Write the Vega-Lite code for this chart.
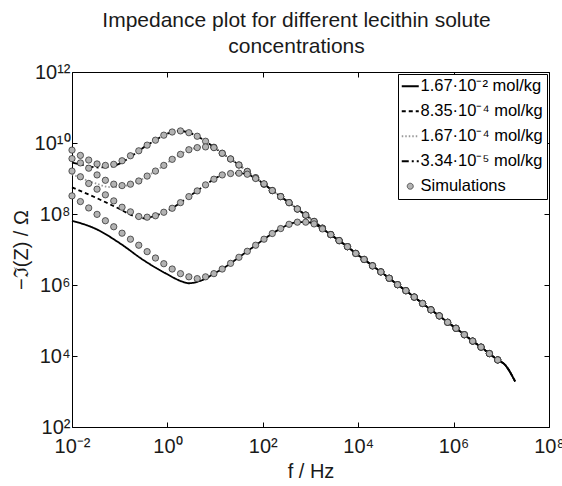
{
"$schema": "https://vega.github.io/schema/vega-lite/v6.json",
"width": 477, "height": 355,
"autosize": {"type": "none"},
"padding": {"left": 72, "top": 72, "right": 13, "bottom": 59},
"background": "white",
"title": {"text": ["Impedance plot for different lecithin solute", "concentrations"], "fontSize": 21, "font": "Liberation Sans", "fontWeight": "normal", "color": "#1a1a1a", "anchor": "middle", "dx": -14, "offset": 5, "lineHeight": 26},
"config": {
  "view": {"stroke": null},
  "axis": {"domainColor": "#000", "tickColor": "#000", "tickSize": -5, "grid": false, "labelFont": "Liberation Sans", "labelFontSize": 20, "labelColor": "#1a1a1a", "titleFont": "Liberation Sans", "titleFontSize": 20, "titleFontWeight": "normal", "titleColor": "#1a1a1a", "labelPadding": 8, "labelOverlap": false, "labelFlush": false}
},
"datasets": {
"markers": [
{"s":"D","f":0.01,"z":6.31e9},{"s":"D","f":0.015,"z":4.47e9},{"s":"D","f":0.0224,"z":3.31e9},{"s":"D","f":0.0335,"z":2.57e9},{"s":"D","f":0.0501,"z":2.34e9},{"s":"D","f":0.075,"z":2.51e9},{"s":"D","f":0.112,"z":3.16e9},{"s":"D","f":0.168,"z":4.37e9},{"s":"D","f":0.251,"z":6.03e9},{"s":"D","f":0.376,"z":8.71e9},{"s":"D","f":0.562,"z":1.20e10},{"s":"D","f":0.841,"z":1.66e10},{"s":"D","f":1.26,"z":2.04e10},{"s":"D","f":1.88,"z":2.19e10},{"s":"D","f":2.82,"z":1.95e10},{"s":"D","f":4.22,"z":1.55e10},{"s":"D","f":6.31,"z":1.12e10},{"s":"D","f":9.44,"z":7.59e9},{"s":"D","f":14.1,"z":5.13e9},{"s":"D","f":21.1,"z":3.55e9},{"s":"D","f":31.6,"z":2.40e9},{"s":"D","f":47.3,"z":1.58e9},
{"s":"D","f":70.8,"z":1.05e9},{"s":"D","f":106,"z":6.92e8},{"s":"D","f":158,"z":4.57e8},{"s":"D","f":237,"z":3.09e8},{"s":"D","f":355,"z":2.09e8},{"s":"D","f":531,"z":1.38e8},{"s":"D","f":794,"z":9.33e7},{"s":"D","f":1190,"z":6.17e7},{"s":"D","f":1780,"z":3.98e7},{"s":"D","f":2660,"z":2.63e7},{"s":"D","f":3980,"z":1.78e7},{"s":"D","f":5960,"z":1.20e7},{"s":"D","f":8910,"z":7.76e6},{"s":"D","f":13300,"z":5.25e6},{"s":"D","f":19950,"z":3.47e6},{"s":"D","f":29850,"z":2.34e6},{"s":"D","f":44670,"z":1.55e6},{"s":"D","f":66830,"z":1.02e6},{"s":"D","f":100000,"z":6.92e5},{"s":"D","f":149600,"z":4.57e5},{"s":"D","f":223900,"z":3.02e5},{"s":"D","f":335000,"z":2.00e5},{"s":"D","f":501200,"z":1.35e5},{"s":"D","f":749900,"z":8.91e4},{"s":"D","f":1122000,"z":6.03e4},{"s":"D","f":1679000,"z":3.98e4},{"s":"D","f":2512000,"z":2.63e4},{"s":"D","f":3758000,"z":1.78e4},{"s":"D","f":5623000,"z":1.17e4},{"s":"D","f":8414000,"z":7.76e3},
{"s":"C","f":0.01,"z":3.63e9},{"s":"C","f":0.015,"z":2.75e9},{"s":"C","f":0.0224,"z":1.95e9},{"s":"C","f":0.0335,"z":1.26e9},{"s":"C","f":0.0501,"z":8.91e8},{"s":"C","f":0.075,"z":6.92e8},{"s":"C","f":0.112,"z":6.31e8},{"s":"C","f":0.168,"z":6.92e8},{"s":"C","f":0.251,"z":8.51e8},{"s":"C","f":0.376,"z":1.17e9},{"s":"C","f":0.562,"z":1.62e9},{"s":"C","f":0.841,"z":2.34e9},{"s":"C","f":1.26,"z":3.47e9},{"s":"C","f":1.88,"z":4.79e9},{"s":"C","f":2.82,"z":6.46e9},{"s":"C","f":4.22,"z":7.41e9},{"s":"C","f":6.31,"z":7.76e9},{"s":"C","f":9.44,"z":7.41e9},{"s":"C","f":14.1,"z":5.13e9},{"s":"C","f":21.1,"z":3.55e9},{"s":"C","f":31.6,"z":2.40e9},{"s":"C","f":47.3,"z":1.58e9},
{"s":"C","f":70.8,"z":1.05e9},{"s":"C","f":106,"z":6.92e8},{"s":"C","f":158,"z":4.57e8},{"s":"C","f":237,"z":3.09e8},{"s":"C","f":355,"z":2.09e8},{"s":"C","f":531,"z":1.38e8},{"s":"C","f":794,"z":9.33e7},{"s":"C","f":1190,"z":6.17e7},{"s":"C","f":1780,"z":3.98e7},{"s":"C","f":2660,"z":2.63e7},{"s":"C","f":3980,"z":1.78e7},{"s":"C","f":5960,"z":1.20e7},{"s":"C","f":8910,"z":7.76e6},{"s":"C","f":13300,"z":5.25e6},{"s":"C","f":19950,"z":3.47e6},{"s":"C","f":29850,"z":2.34e6},{"s":"C","f":44670,"z":1.55e6},{"s":"C","f":66830,"z":1.02e6},{"s":"C","f":100000,"z":6.92e5},{"s":"C","f":149600,"z":4.57e5},{"s":"C","f":223900,"z":3.02e5},{"s":"C","f":335000,"z":2.00e5},{"s":"C","f":501200,"z":1.35e5},{"s":"C","f":749900,"z":8.91e4},{"s":"C","f":1122000,"z":6.03e4},{"s":"C","f":1679000,"z":3.98e4},{"s":"C","f":2512000,"z":2.63e4},{"s":"C","f":3758000,"z":1.78e4},{"s":"C","f":5623000,"z":1.17e4},{"s":"C","f":8414000,"z":7.76e3},
{"s":"B","f":0.01,"z":1.62e9},{"s":"B","f":0.015,"z":1.12e9},{"s":"B","f":0.0224,"z":7.24e8},{"s":"B","f":0.0335,"z":5.01e8},{"s":"B","f":0.0501,"z":3.47e8},{"s":"B","f":0.075,"z":2.34e8},{"s":"B","f":0.112,"z":1.55e8},{"s":"B","f":0.168,"z":1.15e8},{"s":"B","f":0.251,"z":8.51e7},{"s":"B","f":0.376,"z":8.13e7},{"s":"B","f":0.562,"z":8.91e7},{"s":"B","f":0.841,"z":1.12e8},{"s":"B","f":1.26,"z":1.45e8},{"s":"B","f":1.88,"z":2.09e8},{"s":"B","f":2.82,"z":3.09e8},{"s":"B","f":4.22,"z":4.47e8},{"s":"B","f":6.31,"z":6.61e8},{"s":"B","f":9.44,"z":9.55e8},{"s":"B","f":14.1,"z":1.26e9},{"s":"B","f":21.1,"z":1.38e9},{"s":"B","f":31.6,"z":1.41e9},{"s":"B","f":47.3,"z":1.32e9},{"s":"B","f":70.8,"z":1.00e9},{"s":"B","f":106,"z":7.08e8},
{"s":"B","f":158,"z":4.57e8},{"s":"B","f":237,"z":3.09e8},{"s":"B","f":355,"z":2.09e8},{"s":"B","f":531,"z":1.38e8},{"s":"B","f":794,"z":9.33e7},{"s":"B","f":1190,"z":6.17e7},{"s":"B","f":1780,"z":3.98e7},{"s":"B","f":2660,"z":2.63e7},{"s":"B","f":3980,"z":1.78e7},{"s":"B","f":5960,"z":1.20e7},{"s":"B","f":8910,"z":7.76e6},{"s":"B","f":13300,"z":5.25e6},{"s":"B","f":19950,"z":3.47e6},{"s":"B","f":29850,"z":2.34e6},{"s":"B","f":44670,"z":1.55e6},{"s":"B","f":66830,"z":1.02e6},{"s":"B","f":100000,"z":6.92e5},{"s":"B","f":149600,"z":4.57e5},{"s":"B","f":223900,"z":3.02e5},{"s":"B","f":335000,"z":2.00e5},{"s":"B","f":501200,"z":1.35e5},{"s":"B","f":749900,"z":8.91e4},{"s":"B","f":1122000,"z":6.03e4},{"s":"B","f":1679000,"z":3.98e4},{"s":"B","f":2512000,"z":2.63e4},{"s":"B","f":3758000,"z":1.78e4},{"s":"B","f":5623000,"z":1.17e4},{"s":"B","f":8414000,"z":7.76e3},
{"s":"A","f":0.01,"z":3.24e8},{"s":"A","f":0.015,"z":2.24e8},{"s":"A","f":0.0224,"z":1.48e8},{"s":"A","f":0.0335,"z":9.77e7},{"s":"A","f":0.0501,"z":6.46e7},{"s":"A","f":0.075,"z":4.37e7},{"s":"A","f":0.112,"z":2.88e7},{"s":"A","f":0.168,"z":1.95e7},{"s":"A","f":0.251,"z":1.32e7},{"s":"A","f":0.376,"z":8.71e6},{"s":"A","f":0.562,"z":5.75e6},{"s":"A","f":0.841,"z":3.98e6},{"s":"A","f":1.26,"z":2.82e6},{"s":"A","f":1.88,"z":2.09e6},{"s":"A","f":2.82,"z":1.70e6},{"s":"A","f":4.22,"z":1.51e6},{"s":"A","f":6.31,"z":1.70e6},{"s":"A","f":9.44,"z":2.09e6},{"s":"A","f":14.1,"z":2.82e6},{"s":"A","f":21.1,"z":4.07e6},{"s":"A","f":31.6,"z":6.03e6},{"s":"A","f":47.3,"z":8.91e6},{"s":"A","f":70.8,"z":1.32e7},{"s":"A","f":106,"z":1.95e7},{"s":"A","f":158,"z":2.82e7},{"s":"A","f":237,"z":3.89e7},{"s":"A","f":355,"z":5.13e7},{"s":"A","f":531,"z":5.89e7},{"s":"A","f":794,"z":5.89e7},{"s":"A","f":1190,"z":5.25e7},{"s":"A","f":1780,"z":3.80e7},
{"s":"A","f":2660,"z":2.63e7},{"s":"A","f":3980,"z":1.78e7},{"s":"A","f":5960,"z":1.20e7},{"s":"A","f":8910,"z":7.76e6},{"s":"A","f":13300,"z":5.25e6},{"s":"A","f":19950,"z":3.47e6},{"s":"A","f":29850,"z":2.34e6},{"s":"A","f":44670,"z":1.55e6},{"s":"A","f":66830,"z":1.02e6},{"s":"A","f":100000,"z":6.92e5},{"s":"A","f":149600,"z":4.57e5},{"s":"A","f":223900,"z":3.02e5},{"s":"A","f":335000,"z":2.00e5},{"s":"A","f":501200,"z":1.35e5},{"s":"A","f":749900,"z":8.91e4},{"s":"A","f":1122000,"z":6.03e4},{"s":"A","f":1679000,"z":3.98e4},{"s":"A","f":2512000,"z":2.63e4},{"s":"A","f":3758000,"z":1.78e4},{"s":"A","f":5623000,"z":1.17e4},{"s":"A","f":8414000,"z":7.76e3}
],
"lines": [
{"s":"D","f":0.01,"z":2.82e9},{"s":"D","f":0.02,"z":2.29e9},{"s":"D","f":0.0355,"z":2.04e9},{"s":"D","f":0.0631,"z":2.14e9},{"s":"D","f":0.1,"z":2.63e9},{"s":"D","f":0.158,"z":3.80e9},{"s":"D","f":0.251,"z":6.03e9},{"s":"D","f":0.376,"z":8.71e9},{"s":"D","f":0.562,"z":1.20e10},{"s":"D","f":0.841,"z":1.66e10},{"s":"D","f":1.26,"z":2.04e10},{"s":"D","f":1.88,"z":2.19e10},{"s":"D","f":2.82,"z":1.95e10},{"s":"D","f":4.22,"z":1.55e10},{"s":"D","f":6.31,"z":1.12e10},{"s":"D","f":9.44,"z":7.59e9},{"s":"D","f":14.1,"z":5.13e9},{"s":"D","f":21.1,"z":3.55e9},{"s":"D","f":31.6,"z":2.40e9},{"s":"D","f":47.3,"z":1.58e9},
{"s":"D","f":70.8,"z":1.05e9},{"s":"D","f":106,"z":6.92e8},{"s":"D","f":158,"z":4.57e8},{"s":"D","f":237,"z":3.09e8},{"s":"D","f":355,"z":2.09e8},{"s":"D","f":531,"z":1.38e8},{"s":"D","f":794,"z":9.33e7},{"s":"D","f":1190,"z":6.17e7},{"s":"D","f":1780,"z":3.98e7},{"s":"D","f":2660,"z":2.63e7},{"s":"D","f":3980,"z":1.78e7},{"s":"D","f":5960,"z":1.20e7},{"s":"D","f":8910,"z":7.76e6},{"s":"D","f":13300,"z":5.25e6},{"s":"D","f":19950,"z":3.47e6},{"s":"D","f":29850,"z":2.34e6},{"s":"D","f":44670,"z":1.55e6},{"s":"D","f":66830,"z":1.02e6},{"s":"D","f":100000,"z":6.92e5},{"s":"D","f":149600,"z":4.57e5},{"s":"D","f":223900,"z":3.02e5},{"s":"D","f":335000,"z":2.00e5},{"s":"D","f":501200,"z":1.35e5},{"s":"D","f":749900,"z":8.91e4},{"s":"D","f":1122000,"z":6.03e4},{"s":"D","f":1679000,"z":3.98e4},{"s":"D","f":2512000,"z":2.63e4},{"s":"D","f":3758000,"z":1.78e4},{"s":"D","f":5623000,"z":1.17e4},{"s":"D","f":8414000,"z":7.76e3},{"s":"D","f":12000000,"z":5.62e3},{"s":"D","f":19500000,"z":1.91e3},
{"s":"C","f":0.01,"z":1.32e9},{"s":"C","f":0.0316,"z":7.24e8},{"s":"C","f":0.0631,"z":5.75e8},{"s":"C","f":0.1,"z":5.75e8},{"s":"C","f":0.168,"z":6.92e8},{"s":"C","f":0.251,"z":8.51e8},{"s":"C","f":0.376,"z":1.17e9},{"s":"C","f":0.562,"z":1.62e9},{"s":"C","f":0.841,"z":2.34e9},{"s":"C","f":1.26,"z":3.47e9},{"s":"C","f":1.88,"z":4.79e9},{"s":"C","f":2.82,"z":6.46e9},{"s":"C","f":4.22,"z":7.41e9},{"s":"C","f":6.31,"z":7.76e9},{"s":"C","f":9.44,"z":7.41e9},{"s":"C","f":14.1,"z":5.13e9},{"s":"C","f":21.1,"z":3.55e9},{"s":"C","f":31.6,"z":2.40e9},{"s":"C","f":47.3,"z":1.58e9},
{"s":"C","f":70.8,"z":1.05e9},{"s":"C","f":106,"z":6.92e8},{"s":"C","f":158,"z":4.57e8},{"s":"C","f":237,"z":3.09e8},{"s":"C","f":355,"z":2.09e8},{"s":"C","f":531,"z":1.38e8},{"s":"C","f":794,"z":9.33e7},{"s":"C","f":1190,"z":6.17e7},{"s":"C","f":1780,"z":3.98e7},{"s":"C","f":2660,"z":2.63e7},{"s":"C","f":3980,"z":1.78e7},{"s":"C","f":5960,"z":1.20e7},{"s":"C","f":8910,"z":7.76e6},{"s":"C","f":13300,"z":5.25e6},{"s":"C","f":19950,"z":3.47e6},{"s":"C","f":29850,"z":2.34e6},{"s":"C","f":44670,"z":1.55e6},{"s":"C","f":66830,"z":1.02e6},{"s":"C","f":100000,"z":6.92e5},{"s":"C","f":149600,"z":4.57e5},{"s":"C","f":223900,"z":3.02e5},{"s":"C","f":335000,"z":2.00e5},{"s":"C","f":501200,"z":1.35e5},{"s":"C","f":749900,"z":8.91e4},{"s":"C","f":1122000,"z":6.03e4},{"s":"C","f":1679000,"z":3.98e4},{"s":"C","f":2512000,"z":2.63e4},{"s":"C","f":3758000,"z":1.78e4},{"s":"C","f":5623000,"z":1.17e4},{"s":"C","f":8414000,"z":7.76e3},{"s":"C","f":12000000,"z":5.62e3},{"s":"C","f":19500000,"z":1.91e3},
{"s":"B","f":0.01,"z":5.62e8},{"s":"B","f":0.0316,"z":2.88e8},{"s":"B","f":0.1,"z":1.38e8},{"s":"B","f":0.2,"z":8.71e7},{"s":"B","f":0.316,"z":7.59e7},{"s":"B","f":0.562,"z":8.91e7},{"s":"B","f":0.841,"z":1.12e8},{"s":"B","f":1.26,"z":1.45e8},{"s":"B","f":1.88,"z":2.09e8},{"s":"B","f":2.82,"z":3.09e8},{"s":"B","f":4.22,"z":4.47e8},{"s":"B","f":6.31,"z":6.61e8},{"s":"B","f":9.44,"z":9.55e8},{"s":"B","f":14.1,"z":1.26e9},{"s":"B","f":21.1,"z":1.38e9},{"s":"B","f":31.6,"z":1.41e9},{"s":"B","f":47.3,"z":1.32e9},{"s":"B","f":70.8,"z":1.00e9},{"s":"B","f":106,"z":7.08e8},
{"s":"B","f":158,"z":4.57e8},{"s":"B","f":237,"z":3.09e8},{"s":"B","f":355,"z":2.09e8},{"s":"B","f":531,"z":1.38e8},{"s":"B","f":794,"z":9.33e7},{"s":"B","f":1190,"z":6.17e7},{"s":"B","f":1780,"z":3.98e7},{"s":"B","f":2660,"z":2.63e7},{"s":"B","f":3980,"z":1.78e7},{"s":"B","f":5960,"z":1.20e7},{"s":"B","f":8910,"z":7.76e6},{"s":"B","f":13300,"z":5.25e6},{"s":"B","f":19950,"z":3.47e6},{"s":"B","f":29850,"z":2.34e6},{"s":"B","f":44670,"z":1.55e6},{"s":"B","f":66830,"z":1.02e6},{"s":"B","f":100000,"z":6.92e5},{"s":"B","f":149600,"z":4.57e5},{"s":"B","f":223900,"z":3.02e5},{"s":"B","f":335000,"z":2.00e5},{"s":"B","f":501200,"z":1.35e5},{"s":"B","f":749900,"z":8.91e4},{"s":"B","f":1122000,"z":6.03e4},{"s":"B","f":1679000,"z":3.98e4},{"s":"B","f":2512000,"z":2.63e4},{"s":"B","f":3758000,"z":1.78e4},{"s":"B","f":5623000,"z":1.17e4},{"s":"B","f":8414000,"z":7.76e3},{"s":"B","f":12000000,"z":5.62e3},{"s":"B","f":19500000,"z":1.91e3},
{"s":"A","f":0.01,"z":6.46e7},{"s":"A","f":0.0316,"z":3.80e7},{"s":"A","f":0.1,"z":1.51e7},{"s":"A","f":0.316,"z":5.01e6},{"s":"A","f":1,"z":2.00e6},{"s":"A","f":2.0,"z":1.26e6},{"s":"A","f":2.82,"z":1.12e6},{"s":"A","f":4.47,"z":1.26e6},{"s":"A","f":6.31,"z":1.51e6},{"s":"A","f":9.44,"z":2.09e6},{"s":"A","f":14.1,"z":2.82e6},{"s":"A","f":21.1,"z":4.07e6},{"s":"A","f":31.6,"z":6.03e6},{"s":"A","f":47.3,"z":8.91e6},{"s":"A","f":70.8,"z":1.32e7},{"s":"A","f":106,"z":1.95e7},{"s":"A","f":158,"z":2.82e7},{"s":"A","f":237,"z":3.89e7},{"s":"A","f":355,"z":5.13e7},{"s":"A","f":531,"z":5.89e7},{"s":"A","f":794,"z":5.89e7},{"s":"A","f":1190,"z":5.25e7},{"s":"A","f":1780,"z":3.80e7},
{"s":"A","f":2660,"z":2.63e7},{"s":"A","f":3980,"z":1.78e7},{"s":"A","f":5960,"z":1.20e7},{"s":"A","f":8910,"z":7.76e6},{"s":"A","f":13300,"z":5.25e6},{"s":"A","f":19950,"z":3.47e6},{"s":"A","f":29850,"z":2.34e6},{"s":"A","f":44670,"z":1.55e6},{"s":"A","f":66830,"z":1.02e6},{"s":"A","f":100000,"z":6.92e5},{"s":"A","f":149600,"z":4.57e5},{"s":"A","f":223900,"z":3.02e5},{"s":"A","f":335000,"z":2.00e5},{"s":"A","f":501200,"z":1.35e5},{"s":"A","f":749900,"z":8.91e4},{"s":"A","f":1122000,"z":6.03e4},{"s":"A","f":1679000,"z":3.98e4},{"s":"A","f":2512000,"z":2.63e4},{"s":"A","f":3758000,"z":1.78e4},{"s":"A","f":5623000,"z":1.17e4},{"s":"A","f":8414000,"z":7.76e3},{"s":"A","f":12000000,"z":5.62e3},{"s":"A","f":19500000,"z":1.91e3}
]
},
"layer": [
{
  "data": {"name": "lines"},
  "mark": {"type": "line", "strokeWidth": 1.8, "interpolate": "monotone"},
  "encoding": {
    "x": {"field": "f", "type": "quantitative", "scale": {"type": "log", "domain": [0.01, 100000000], "nice": false},
      "axis": {"orient": "bottom", "values": [0.01, 1, 100, 10000, 1000000, 100000000], "labelPadding": 14, "labelExpr": "datum.value < 0.1 ? '10⁻²' : datum.value < 10 ? '10⁰' : datum.value < 1000 ? '10²' : datum.value < 100000 ? '10⁴' : datum.value < 10000000 ? '10⁶' : '10⁸'", "title": "f / Hz", "titlePadding": 5}},
    "y": {"field": "z", "type": "quantitative", "scale": {"type": "log", "domain": [100, 1000000000000], "nice": false},
      "axis": {"orient": "left", "values": [100, 10000, 1000000, 100000000, 10000000000, 1000000000000], "labelPadding": 7, "labelExpr": "datum.value < 1000 ? '10²' : datum.value < 100000 ? '10⁴' : datum.value < 10000000 ? '10⁶' : datum.value < 1000000000 ? '10⁸' : datum.value < 100000000000 ? '10¹⁰' : '10¹²'", "title": "−ℑ(Z) / Ω", "titlePadding": 3}},
    "color": {"field": "s", "type": "nominal", "scale": {"domain": ["A", "B", "C", "D", "S"], "range": ["#000000", "#000000", "#9a9a9a", "#000000", "#333333"]},
      "legend": {"title": null, "orient": "top-right", "offset": 2, "padding": 4, "strokeColor": "#000", "fillColor": "#fff", "labelFont": "Liberation Sans", "labelFontSize": 16.5, "labelColor": "#000", "symbolType": "stroke", "symbolSize": 289, "symbolStrokeWidth": 2, "rowPadding": 8, "labelOffset": 2,
        "labelExpr": "datum.label == 'A' ? '1.67·10⁻² mol/kg' : datum.label == 'B' ? '8.35·10⁻⁴ mol/kg' : datum.label == 'C' ? '1.67·10⁻⁴ mol/kg' : datum.label == 'D' ? '3.34·10⁻⁵ mol/kg' : 'Simulations'",
        "encode": {"symbols": {"update": {"shape": {"signal": "datum.value === 'S' ? 'circle' : 'stroke'"}, "size": {"signal": "datum.value === 'S' ? 36 : 289"}, "fill": {"signal": "datum.value === 'S' ? '#b3b3b3' : 'transparent'"}, "strokeWidth": {"signal": "datum.value === 'S' ? 0.8 : 2"}}}}}},
    "strokeDash": {"field": "s", "type": "nominal", "scale": {"domain": ["A", "B", "C", "D", "S"], "range": [[1, 0], [4, 3], [1.5, 2], [7, 3, 2, 3], [1, 0]]},
      "legend": {"title": null, "orient": "top-right", "offset": 2, "padding": 4, "strokeColor": "#000", "fillColor": "#fff", "labelFont": "Liberation Sans", "labelFontSize": 16.5, "labelColor": "#000", "symbolType": "stroke", "symbolSize": 289, "symbolStrokeWidth": 2, "rowPadding": 8, "labelOffset": 2,
        "labelExpr": "datum.label == 'A' ? '1.67·10⁻² mol/kg' : datum.label == 'B' ? '8.35·10⁻⁴ mol/kg' : datum.label == 'C' ? '1.67·10⁻⁴ mol/kg' : datum.label == 'D' ? '3.34·10⁻⁵ mol/kg' : 'Simulations'",
        "encode": {"symbols": {"update": {"shape": {"signal": "datum.value === 'S' ? 'circle' : 'stroke'"}, "size": {"signal": "datum.value === 'S' ? 36 : 289"}, "fill": {"signal": "datum.value === 'S' ? '#b3b3b3' : 'transparent'"}, "strokeWidth": {"signal": "datum.value === 'S' ? 0.8 : 2"}}}}}}
  }
},
{
  "data": {"name": "markers"},
  "mark": {"type": "point", "filled": true, "fill": "#b3b3b3", "stroke": "#222222", "strokeWidth": 0.7, "size": 40, "opacity": 1},
  "encoding": {
    "x": {"field": "f", "type": "quantitative", "scale": {"type": "log", "domain": [0.01, 100000000], "nice": false},
      "axis": {"orient": "top", "values": [0.01, 1, 100, 10000, 1000000, 100000000], "labels": false, "title": null}},
    "y": {"field": "z", "type": "quantitative", "scale": {"type": "log", "domain": [100, 1000000000000], "nice": false},
      "axis": {"orient": "right", "values": [100, 10000, 1000000, 100000000, 10000000000, 1000000000000], "labels": false, "title": null}}
  }
}
],
"resolve": {"axis": {"x": "independent", "y": "independent"}}
}
